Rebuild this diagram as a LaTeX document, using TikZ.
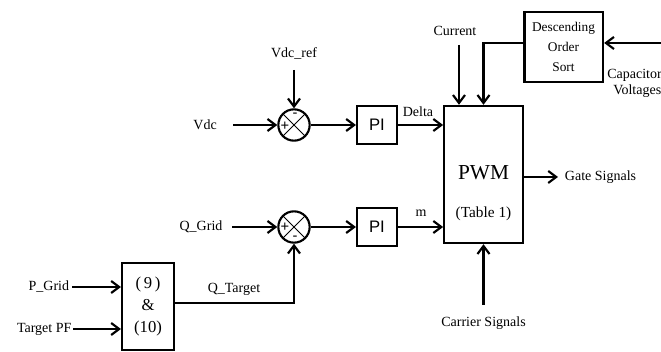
\documentclass[tikz,border=0pt]{standalone}
\usepackage{fontspec}
\setmainfont{Liberation Serif}
\newfontfamily\csans{Liberation Sans}
\usepackage{tikz}
\usetikzlibrary{arrows.meta,positioning,calc}
\tikzset{
  >={Straight Barb[length=6pt,width=9pt]},
  csig/.style={->, black, line width=1.6pt},
  clbl/.style={black, font=\fontsize{10.5}{12}\selectfont, inner sep=0pt},
  cblock/.style={draw=black, fill=white, line width=1.6pt, inner sep=2pt},
  cpi/.style={cblock, minimum width=30pt, minimum height=29pt,
              font=\csans\fontsize{12.5}{14}\selectfont},
  csum/.style={circle, draw=black, line width=1.6pt, minimum size=23.5pt, inner sep=0pt,
               path picture={\draw[black, line width=0.6pt]
                 (path picture bounding box.north west) -- (path picture bounding box.south east)
                 (path picture bounding box.north east) -- (path picture bounding box.south west);}},
  csign/.style={black, font=\csans\fontsize{11}{12}\selectfont, inner sep=0pt},
}

\begin{document}
\begin{tikzpicture}[x=0.75pt,y=-0.75pt]
  \useasboundingbox (0,0) rectangle (661,352);

  % somadores e controladores
  \node[csum] (sum1) at (294,125) {};
  \node[csum] (sum2) at (294,227) {};
  \node[csign] (s1p) at (285,126) {+};
  \node[csign] (s1m) at (295,115) {-};
  \node[csign] (s2p) at (285,227) {+};
  \node[csign] (s2m) at (295,238) {-};
  \node[cpi] (pi1) at (377,125) {PI};
  \node[cpi] (pi2) at (377,227) {PI};

  % blocos principais
  \node[cblock, minimum width=59pt, minimum height=103pt] (pwm) at (483.5,174.5) {};
  \node[font=\fontsize{16}{18}\selectfont, inner sep=0pt] (pwmname) at (483.5,173) {PWM};
  \node[font=\fontsize{11.5}{13}\selectfont, inner sep=0pt] (pwmtab) at (483.5,214) {(Table 1)};
  \node[cblock, line width=2pt, minimum width=59pt, minimum height=52.5pt, align=center,
        font=\fontsize{10}{15}\selectfont] (sort) at (563.5,47) {Descending\\Order\\Sort};
  \node[cblock, minimum width=39pt, minimum height=65pt, align=center,
        font=\fontsize{12.5}{16.5}\selectfont] (eq) at (148,306.5) {(\,9\,)\\\&\\(10)};

  % entradas livres
  \coordinate (vdcin) at (233,125);
  \coordinate (refin) at (294,70);
  \coordinate (qgin)  at (232,227);
  \coordinate (pgin)  at (72,287);
  \coordinate (pfin)  at (73,329);
  \coordinate (curin) at (459,45);
  \coordinate (carin) at (483.5,305);
  \coordinate (capin) at (661,43);
  \coordinate (gateout) at (558,177);
  \coordinate (qtline)  at (0,303);

  % rotulos
  \node[clbl, left=12pt of vdcin] (vdc) {Vdc};
  \node[clbl, above=8pt of refin] (vdcref) {Vdc\_ref};
  \node[clbl, left=7pt of qgin] (qgrid) {Q\_Grid};
  \node[clbl, left=2pt of pgin] (pgrid) {P\_Grid};
  \node[clbl, left=1pt of pfin] (tpf) {Target PF};
  \node[clbl] (qtarget) at (234,289) {Q\_Target};
  \node[clbl] (delta) at (418,112) {Delta};
  \node[clbl] (mlbl) at (421,213) {m};
  \node[clbl, above=7pt of curin, xshift=-3pt] (current) {Current};
  \node[clbl, below=9pt of carin] (carrier) {Carrier Signals};
  \node[clbl, right=5pt of gateout] (gate) {Gate Signals};
  \node[clbl, anchor=west] (capv1) at (607,75) {Capacitor};
  \node[clbl, anchor=west] (capv2) at (613,91) {Voltages};

  % ligacoes
  \draw[csig] (vdcin) -- (sum1.west);
  \draw[csig] (refin) -- (sum1.north);
  \draw[csig] (sum1.east) -- (pi1.west);
  \draw[csig] (pi1.east) -- (pi1.east -| pwm.west);
  \draw[csig] (qgin) -- (sum2.west);
  \draw[csig] (sum2.east) -- (pi2.west);
  \draw[csig] (pi2.east) -- (pi2.east -| pwm.west);
  \draw[csig] (pgin) -- (pgin -| eq.west);
  \draw[csig] (pfin) -- (pfin -| eq.west);
  \draw[csig] (eq.east |- qtline) -| (sum2.south);
  \draw[csig] (curin) -- (curin |- pwm.north);
  \draw[csig] (capin) -- (capin -| sort.east);
  \draw[csig] (sort.west |- capin) -| (pwm.north);
  \draw[csig] (carin) -- (pwm.south);
  \draw[csig] (gateout -| pwm.east) -- (gateout);

\end{tikzpicture}
\end{document}
